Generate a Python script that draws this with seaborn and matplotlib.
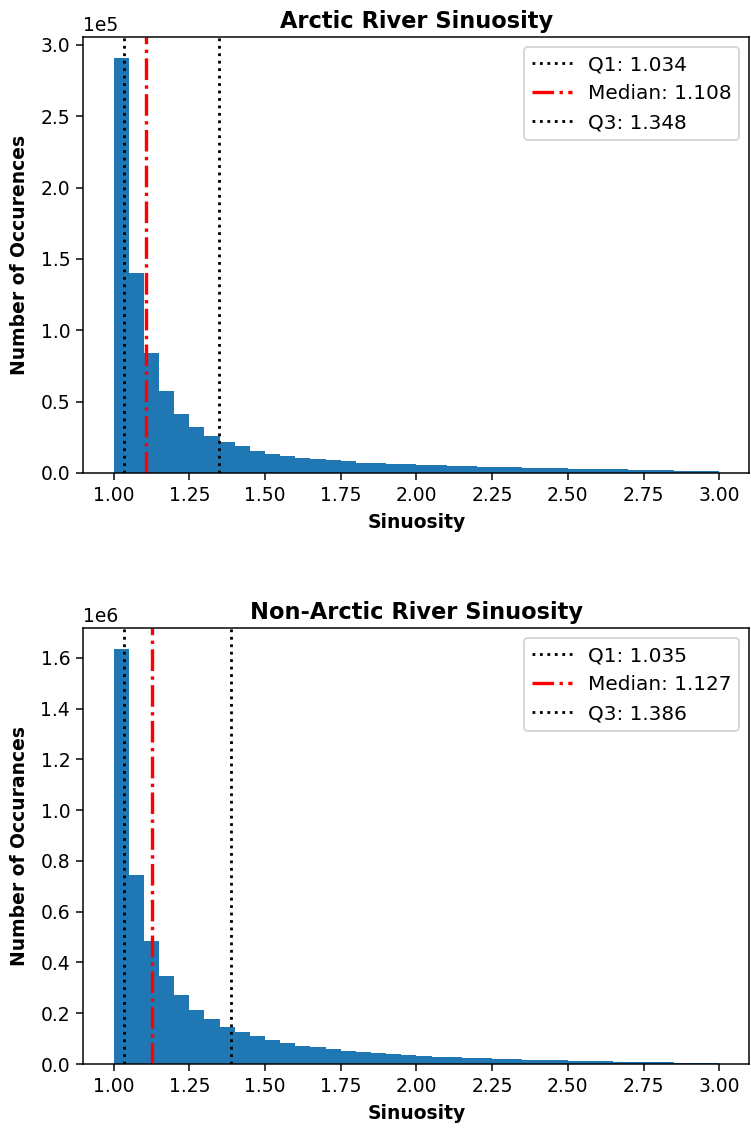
import numpy as np
import pandas as pd
import matplotlib
matplotlib.use('Agg')
import matplotlib.pyplot as plt
import seaborn as sns

# ── Histogram data (40 bins of 0.05, 1.0 → 3.0) ─────────────────────────────
BIN_WIDTH = 0.05
BIN_RANGE = (1.0, 3.0)

arctic_counts = [2.91, 1.40, 0.84, 0.575, 0.41, 0.32, 0.262, 0.216, 0.188, 0.157,
                 0.13, 0.119, 0.108, 0.101, 0.088, 0.082, 0.072, 0.07, 0.063, 0.06,
                 0.056, 0.053, 0.050, 0.047, 0.044, 0.042, 0.040, 0.037, 0.035, 0.033,
                 0.031, 0.029, 0.027, 0.025, 0.023, 0.021, 0.019, 0.017, 0.015, 0.013]
arctic_scale = 1e5

nonarctic_counts = [1.635, 0.745, 0.485, 0.348, 0.27, 0.214, 0.177, 0.147, 0.125, 0.109,
                    0.095, 0.082, 0.073, 0.066, 0.059, 0.052, 0.046, 0.042, 0.038, 0.034,
                    0.031, 0.028, 0.026, 0.024, 0.022, 0.020, 0.018, 0.016, 0.015, 0.014,
                    0.013, 0.012, 0.011, 0.010, 0.009, 0.008, 0.007, 0.006, 0.005, 0.004]
nonarctic_scale = 1e6

arctic_quartiles = [1.034, 1.108, 1.348]
nonarctic_quartiles = [1.035, 1.127, 1.386]

panels = [
    ("Arctic River Sinuosity", "Number of Occurences", arctic_counts, arctic_scale, arctic_quartiles),
    ("Non-Arctic River Sinuosity", "Number of Occurances", nonarctic_counts, nonarctic_scale, nonarctic_quartiles),
]

DPI = 135
fig = plt.figure(figsize=(751 / DPI, 1128 / DPI), dpi=DPI)
ax_top = fig.add_axes([0.111, 0.5807, 0.887, 0.3865])
ax_bot = fig.add_axes([0.111, 0.0567, 0.887, 0.3865])

n_bins = len(arctic_counts)
centers = BIN_RANGE[0] + BIN_WIDTH * (np.arange(n_bins) + 0.5)

for ax, (title, ylabel, counts, scale, (q1, med, q3)) in zip([ax_top, ax_bot], panels):
    df = pd.DataFrame({'sinuosity': centers, 'n': np.array(counts) * scale})
    sns.histplot(data=df, x='sinuosity', weights='n', binwidth=BIN_WIDTH,
                 binrange=BIN_RANGE, ax=ax, color='#1f77b4', alpha=1, linewidth=0)
    ax.axvline(q1, color='black', linestyle=':', linewidth=1.5, label=f"Q1: {q1:.3f}")
    ax.axvline(med, color='red', linestyle='-.', linewidth=1.8, label=f"Median: {med:.3f}")
    ax.axvline(q3, color='black', linestyle=':', linewidth=1.5, label=f"Q3: {q3:.3f}")
    ax.set_title(title, fontweight='bold', pad=5)
    ax.set_xlabel('Sinuosity', fontweight='bold')
    ax.set_ylabel(ylabel, fontweight='bold', labelpad=6)
    ax.ticklabel_format(axis='y', style='sci', scilimits=(0, 0))
    ax.legend(loc='upper right', fontsize=10.7)

fig.savefig('out.png', dpi=DPI)
